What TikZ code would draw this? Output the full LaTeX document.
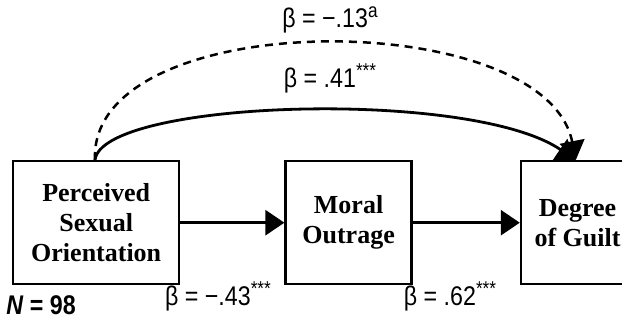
\documentclass[tikz,border=0pt]{standalone}
\usepackage{fontspec}
\setmainfont{Liberation Serif}
\newfontfamily\lblfont[FakeStretch=0.86]{Liberation Sans}
\usetikzlibrary{arrows.meta, positioning, calc}

\newcommand{\sigmark}[1]{\raisebox{0.7ex}{\fontsize{20}{20}\selectfont #1}}

\begin{document}
\begin{tikzpicture}[x=1pt, y=-1pt,
    >={Triangle[length=19pt, width=25pt]},
    varbox/.style={
        draw,
        line width=2.4pt,
        minimum height=123pt,
        inner sep=0pt,
        align=center,
        font=\fontsize{26}{30}\selectfont\bfseries
    },
    link/.style={
        ->,
        line width=2.8pt
    },
    betalbl/.style={
        font=\lblfont\fontsize{27}{30}\selectfont
    }
]
\useasboundingbox (0,0) rectangle (622,324);

% =====================
% Variables
% =====================

\node[varbox, minimum width=166pt, anchor=north west] (pso) at (12,160) {Perceived\\Sexual\\Orientation};
\node[varbox, minimum width=126pt, right=104pt of pso] (outrage) {Moral\\Outrage};
\node[varbox, minimum width=113pt, right=107pt of outrage] (guilt) {Degree\\of Guilt};

% =====================
% Paths
% =====================

\draw[link] (pso) -- (outrage);
\draw[link] (outrage) -- (guilt);

\coordinate (src) at ([xshift=83pt]pso.north west);
\coordinate (dst) at ([xshift=56pt]guilt.north west);

\draw[link] (src) .. controls (102,100) and (470,88) .. (dst);
\draw[link, line width=2.5pt, dash pattern=on 8pt off 6pt] (src) .. controls (88,5) and (545,5) .. (dst);

% =====================
% Coefficients
% =====================

\node[betalbl] (b13) at (330,20) {β = −.13\sigmark{a}};
\node[betalbl] (b41) at (330,78) {β = .41\sigmark{***}};
\node[betalbl] (b43) at (218,296) {β = −.43\sigmark{***}};
\node[betalbl] (b62) at (450,296) {β = .62\sigmark{***}};
\node[betalbl] (nsize) at (41,305) {\textbf{\textit{N} = 98}};

\end{tikzpicture}
\end{document}
